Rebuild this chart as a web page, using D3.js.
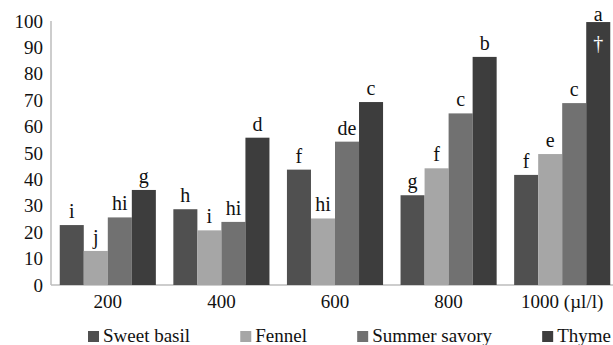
<!DOCTYPE html>
<html>
<head>
<meta charset="utf-8">
<script src="https://cdn.jsdelivr.net/npm/d3@7"></script>
<style>
  body { margin: 0; background: #fff; }
</style>
</head>
<body>
<div id="chart"></div>
<script>
// concentrations (x groups)
const doses = ['200', '400', '600', '800', '1000'];
const doseLabels = ['200', '400', '600', '800', '1000 (\u00b5l/l)'];
const oils = ['Sweet basil', 'Fennel', 'Summer savory', 'Thyme'];

// mortality (%), one array per oil
const sweetBasil = [22.7, 28.7, 43.7, 34.0, 41.7];
const fennel = [12.9, 20.7, 25.2, 44.2, 49.6];
const summerSavory = [25.6, 23.9, 54.3, 65.0, 68.9];
const thyme = [36.0, 55.8, 69.3, 86.4, 99.6];

// significance letters
const sweetBasilLetters = ['i', 'h', 'f', 'g', 'f'];
const fennelLetters = ['j', 'i', 'hi', 'f', 'e'];
const summerSavoryLetters = ['hi', 'hi', 'de', 'c', 'c'];
const thymeLetters = ['g', 'd', 'c', 'b', 'a'];

const yTicks = [0, 10, 20, 30, 40, 50, 60, 70, 80, 90, 100];

const values = [sweetBasil, fennel, summerSavory, thyme];
const letters = [sweetBasilLetters, fennelLetters, summerSavoryLetters, thymeLetters];
const colors = ['#505050', '#a6a6a6', '#717171', '#3d3d3d'];
const font = '"Liberation Serif", "DejaVu Serif", "Times New Roman", serif';

const W = 613, H = 345;
const svg = d3.select('#chart').append('svg')
  .attr('width', W)
  .attr('height', H)
  .style('font-family', font);

const x = d3.scaleBand().domain(doses).range([51, 619])
  .paddingInner(0.154).paddingOuter(0.077);
const xs = d3.scaleBand().domain(oils).range([0, x.bandwidth()]);
const y = d3.scaleLinear().domain([0, 100]).range([285, 21]);

// flatten for drawing
const rows = [];
doses.forEach((d, i) => {
  oils.forEach((o, j) => {
    rows.push({ dose: d, oil: o, value: values[j][i], letter: letters[j][i], color: colors[j] });
  });
});

// axes lines
svg.append('line')
  .attr('x1', 51).attr('x2', 51)
  .attr('y1', y(100)).attr('y2', y(0))
  .attr('stroke', '#bdbdbd').attr('stroke-width', 1.5);
svg.append('line')
  .attr('x1', 51).attr('x2', W)
  .attr('y1', y(0)).attr('y2', y(0))
  .attr('stroke', '#bdbdbd').attr('stroke-width', 1.5);

// y tick labels
svg.append('g').selectAll('text')
  .data(yTicks)
  .join('text')
  .attr('x', 43)
  .attr('y', d => y(d))
  .attr('dy', '0.35em')
  .attr('text-anchor', 'end')
  .attr('font-size', 19)
  .attr('fill', '#111')
  .text(d => d);

// bars
svg.append('g').selectAll('rect')
  .data(rows)
  .join('rect')
  .attr('x', d => x(d.dose) + xs(d.oil))
  .attr('y', d => y(d.value))
  .attr('width', xs.bandwidth())
  .attr('height', d => y(0) - y(d.value))
  .attr('fill', d => d.color);

// letters above bars
svg.append('g').selectAll('text')
  .data(rows)
  .join('text')
  .attr('x', d => x(d.dose) + xs(d.oil) + xs.bandwidth() / 2)
  .attr('y', d => Math.max(y(d.value) - 7, 21))
  .attr('text-anchor', 'middle')
  .attr('font-size', 20)
  .attr('fill', '#111')
  .text(d => d.letter);

// dagger inside the top Thyme bar
svg.append('text')
  .attr('x', x('1000') + xs('Thyme') + xs.bandwidth() / 2)
  .attr('y', y(thyme[4]) + 28)
  .attr('text-anchor', 'middle')
  .attr('font-size', 20)
  .attr('fill', '#fff')
  .text('\u2020');

// x labels
svg.append('g').selectAll('text')
  .data(doses)
  .join('text')
  .attr('x', d => x(d) + x.bandwidth() / 2)
  .attr('y', 308)
  .attr('text-anchor', 'middle')
  .attr('font-size', 19)
  .attr('fill', '#111')
  .text((d, i) => doseLabels[i]);

// legend: spread items between the left start and the right edge
const legStart = 88, legEnd = 611, sw = 11, swGap = 4;
const leg = svg.append('g').selectAll('g')
  .data(oils)
  .join('g');
leg.append('rect')
  .attr('y', 331)
  .attr('width', sw).attr('height', sw)
  .attr('fill', (d, i) => colors[i]);
leg.append('text')
  .attr('y', 342)
  .attr('font-size', 19)
  .attr('fill', '#111')
  .text(d => d);

const widths = [];
leg.select('text').each(function() { widths.push(this.getComputedTextLength()); });
const used = d3.sum(widths) + oils.length * (sw + swGap);
const gap = (legEnd - legStart - used) / (oils.length - 1);
let cx = legStart;
leg.each(function(d, i) {
  const g = d3.select(this);
  g.select('rect').attr('x', cx);
  g.select('text').attr('x', cx + sw + swGap);
  cx += sw + swGap + widths[i] + gap;
});
</script>
</body>
</html>
